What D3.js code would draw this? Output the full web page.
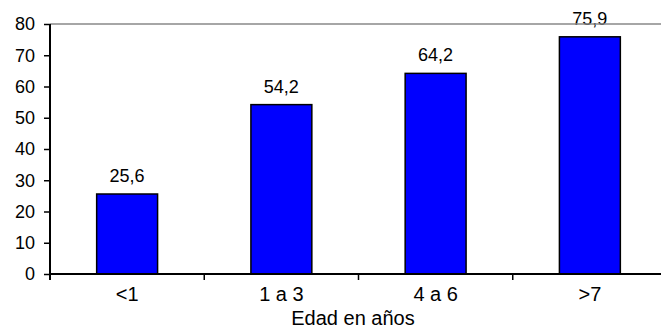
<!DOCTYPE html>
<html>
<head>
<meta charset="utf-8">
<script src="https://cdn.jsdelivr.net/npm/d3@7"></script>
<style>
  html, body { margin: 0; padding: 0; background: #fff; }
  svg { display: block; }
  text { font-family: "Liberation Sans", Arial, sans-serif; fill: #000; }
</style>
</head>
<body>
<svg id="chart" width="661" height="329"></svg>
<script>
// Age groups and their values
const categories = ["<1", "1 a 3", "4 a 6", ">7"];
const values = [25.6, 54.2, 64.2, 75.9];
const valueLabels = ["25,6", "54,2", "64,2", "75,9"];
const yTicks = [0, 10, 20, 30, 40, 50, 60, 70, 80];
const xTitle = "Edad en años";

const svg = d3.select("#chart");
const W = 661, H = 329;
const plotL = 50, plotR = 667, plotT = 24, plotB = 274;
const fontSize = 18;

const x = d3.scaleBand().domain(categories).range([plotL, plotR]).padding(0);
const y = d3.scaleLinear().domain([0, 80]).range([plotB, plotT]);
const barW = x.bandwidth() * 0.395;

// Bars
svg.append("g").selectAll("rect")
  .data(values)
  .join("rect")
  .attr("x", (d, i) => x(categories[i]) + (x.bandwidth() - barW) / 2)
  .attr("y", d => y(d))
  .attr("width", barW)
  .attr("height", d => y(0) - y(d))
  .attr("fill", "#0000ff")
  .attr("stroke", "#000")
  .attr("stroke-width", 1.5);

// Value labels above bars
svg.append("g").selectAll("text")
  .data(values)
  .join("text")
  .attr("x", (d, i) => x(categories[i]) + x.bandwidth() / 2)
  .attr("y", d => y(d) - 12)
  .attr("text-anchor", "middle")
  .attr("font-size", fontSize)
  .text((d, i) => valueLabels[i]);

// Gray top border of the plot area
svg.append("line")
  .attr("x1", plotL).attr("x2", W)
  .attr("y1", y(80)).attr("y2", y(80))
  .attr("stroke", "#888").attr("stroke-width", 1.3);

// Y axis
const yAxis = svg.append("g")
  .attr("transform", `translate(${plotL},0)`)
  .call(d3.axisLeft(y).tickValues(yTicks).tickSize(6).tickPadding(9).tickFormat(d3.format("d")));
yAxis.select(".domain").attr("stroke", "#000").attr("stroke-width", 2)
  .attr("d", `M0,${plotT}V${plotB + 6}`);
yAxis.selectAll(".tick line").attr("stroke", "#000").attr("stroke-width", 1.5);
yAxis.selectAll(".tick text").attr("font-size", fontSize).attr("font-family", null);

// X axis: labels centred in bands, ticks at band boundaries
const xAxis = svg.append("g")
  .attr("transform", `translate(0,${plotB})`)
  .call(d3.axisBottom(x).tickSize(0).tickPadding(0));
xAxis.select(".domain").attr("stroke", "#000").attr("stroke-width", 2)
  .attr("d", `M${plotL},0H${W}`);
xAxis.selectAll(".tick text").attr("font-size", 20).attr("font-family", null)
  .attr("y", 27).attr("dy", 0);
xAxis.append("g").selectAll("line")
  .data(categories.slice(1))
  .join("line")
  .attr("x1", d => x(d)).attr("x2", d => x(d))
  .attr("y1", 0).attr("y2", 6)
  .attr("stroke", "#000").attr("stroke-width", 1.5);

// Axis title
svg.append("text")
  .attr("x", 353)
  .attr("y", 325)
  .attr("text-anchor", "middle")
  .attr("font-size", 20)
  .text(xTitle);
</script>
</body>
</html>
